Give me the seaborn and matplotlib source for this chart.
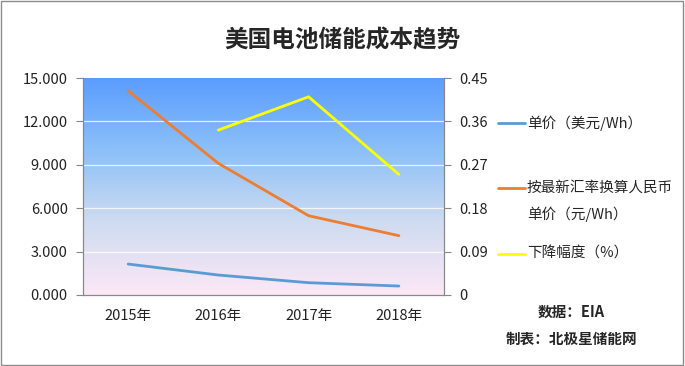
import numpy as np
import pandas as pd
import seaborn as sns
import matplotlib.pyplot as plt
from matplotlib.colors import LinearSegmentedColormap
from matplotlib.patches import Rectangle

sns.set_style("white")
plt.rcParams['font.family'] = ['Noto Sans CJK SC', 'DejaVu Sans']

years = ['2015年', '2016年', '2017年', '2018年']
usd_price = [2.14, 1.38, 0.85, 0.62]
rmb_price = [14.12, 9.1, 5.48, 4.1]
decline = [np.nan, 0.342, 0.411, 0.250]

df = pd.DataFrame({'year': years, 'usd': usd_price, 'rmb': rmb_price, 'dec': decline})
df['x'] = np.arange(len(years))

fig = plt.figure(figsize=(6.85, 3.66), dpi=100)
fig.patches.append(Rectangle((0.002, 0.003), 0.995, 0.994, transform=fig.transFigure,
                             fill=False, edgecolor='#8c8c8c', linewidth=1))
ax = fig.add_axes([83 / 685, 1 - 295 / 366, 361 / 685, 217 / 366])

# gradient plot background
cmap = LinearSegmentedColormap.from_list('bg', ['#5b9dff', '#8cc0f8', '#cfdcf0', '#fde8f6'])
grad = np.linspace(0, 1, 256).reshape(-1, 1)
ax.imshow(grad, aspect='auto', cmap=cmap, extent=[0, 1, 0, 1],
          transform=ax.transAxes, zorder=0)

sns.lineplot(data=df, x='x', y='usd', ax=ax, color='#5b9bd5', linewidth=2, legend=False)
sns.lineplot(data=df, x='x', y='rmb', ax=ax, color='#ed7d31', linewidth=2, legend=False)
ax.set_xlim(-0.5, 3.5)
ax.set_ylim(0, 15)
ax.set_yticks(np.arange(0, 15.01, 3))
ax.set_yticklabels([f'{v:.3f}' for v in np.arange(0, 15.01, 3)])
ax.set_xticks(df['x'])
ax.set_xticklabels(years)
ax.set_xticks(np.arange(-0.5, 3.6, 1), minor=True)
ax.tick_params(axis='x', which='major', length=0, pad=10)
ax.tick_params(axis='x', which='minor', length=5, color='#888888', direction='out')
ax.tick_params(axis='y', length=5, color='#888888', direction='out', pad=6)
ax.tick_params(labelsize=10.5, labelcolor='#222222')
for y in np.arange(3, 15, 3):
    ax.axhline(y, color='white', linewidth=0.9, alpha=0.8, zorder=1)
ax.set_xlabel('')
ax.set_ylabel('')
for s in ['left', 'bottom', 'right']:
    ax.spines[s].set_color('#888888')
ax.spines['top'].set_visible(False)

ax2 = ax.twinx()
sns.lineplot(data=df, x='x', y='dec', ax=ax2, color='#ffff00', linewidth=2, legend=False)
ax2.set_ylim(0, 0.45)
ax2.set_yticks([0, 0.09, 0.18, 0.27, 0.36, 0.45])
ax2.set_yticklabels(['0', '0.09', '0.18', '0.27', '0.36', '0.45'])
ax2.tick_params(axis='y', length=5, color='#888888', direction='out', pad=6, labelsize=10.5, labelcolor='#222222')
ax2.set_ylabel('')
for s in ['left', 'bottom', 'right']:
    ax2.spines[s].set_color('#888888')
ax2.spines['top'].set_visible(False)

fig.text(0.5, 0.89, '美国电池储能成本趋势', ha='center', va='center', fontsize=17, fontweight='bold')

# legend
entries = [('#5b9bd5', 123, ['单价（美元/Wh）']),
           ('#ed7d31', 188, ['按最新汇率换算人民币', '单价（元/Wh）']),
           ('#ffff00', 254, ['下降幅度（%）'])]
for color, ypx, lines in entries:
    yf = 1 - ypx / 366
    fig.add_artist(plt.Line2D([498 / 685, 525 / 685], [yf, yf], color=color, linewidth=2,
                              transform=fig.transFigure))
    for i, t in enumerate(lines):
        fig.text(527 / 685, 1 - (ypx + i * 26) / 366, t, ha='left', va='center', fontsize=10.5)

fig.text(571 / 685, 1 - 312 / 366, '数据：EIA', ha='center', va='center', fontsize=10.5, fontweight='bold')
fig.text(571 / 685, 1 - 339 / 366, '制表：北极星储能网', ha='center', va='center', fontsize=10.5, fontweight='bold')

fig.savefig('out.png', dpi=100)
